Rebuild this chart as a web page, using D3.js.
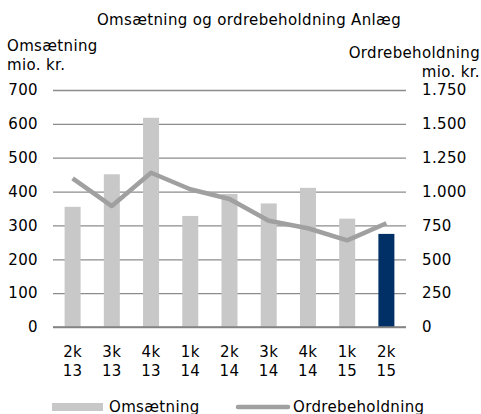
<!DOCTYPE html>
<html>
<head>
<meta charset="utf-8">
<script src="https://cdn.jsdelivr.net/npm/d3@7"></script>
<style>
  body { margin: 0; background: #fff; }
  text { font-family: "DejaVu Sans", Verdana, sans-serif; fill: #000; letter-spacing: 0.35px; }
</style>
</head>
<body>
<div id="chart"></div>
<script>
// Data
var quarters = ["2k 13", "3k 13", "4k 13", "1k 14", "2k 14", "3k 14", "4k 14", "1k 15", "2k 15"];
var omsaetning = [355, 451, 618, 328, 393, 365, 411, 320, 275];
var ordrebeholdning = [1098, 893, 1139, 1017, 945, 785, 729, 640, 766];
var leftTicks = [0, 100, 200, 300, 400, 500, 600, 700];
var rightTicks = [0, 250, 500, 750, 1000, 1250, 1500, 1750];

// Measurement
var w = 481, h = 414;
var padding = [90, 75, 87, 53];  // top, right, bottom, left
var fs = 15;

var svg = d3.select("#chart").append("svg")
  .attr("width", w)
  .attr("height", h);

var xScale = d3.scaleBand()
  .domain(quarters)
  .range([padding[3], w - padding[1]]);

var yLeft = d3.scaleLinear()
  .domain([0, 700])
  .range([h - padding[2], padding[0]]);

var yRight = d3.scaleLinear()
  .domain([0, 1750])
  .range([h - padding[2], padding[0]]);

var fmt = d3.formatLocale({ decimal: ",", thousands: ".", grouping: [3], currency: ["", " kr."] }).format(",d");

// Gridlines (left axis)
var grid = d3.axisLeft(yLeft)
  .tickValues(leftTicks)
  .tickSize(-(w - padding[1] - padding[3]))
  .tickFormat("");

svg.append("g")
  .attr("transform", "translate(" + padding[3] + ",0)")
  .call(grid)
  .call(function(g) {
    g.select(".domain").remove();
    g.selectAll("line").attr("stroke", "#8c8c8c").attr("stroke-width", 1.3);
  });

// Bars
svg.selectAll(".bar")
  .data(omsaetning)
  .enter()
  .append("rect")
  .attr("class", "bar")
  .attr("x", function(d, i) { return xScale(quarters[i]) + xScale.bandwidth() / 2 - 8; })
  .attr("width", 16)
  .attr("y", function(d) { return yLeft(d); })
  .attr("height", function(d) { return yLeft(0) - yLeft(d); })
  .attr("fill", function(d, i) { return i == quarters.length - 1 ? "#003066" : "#c8c8c8"; });

// Zero axis line
svg.append("line")
  .attr("x1", padding[3]).attr("x2", w - padding[1])
  .attr("y1", yLeft(0)).attr("y2", yLeft(0))
  .attr("stroke", "#808080").attr("stroke-width", 1.5);

// Line
var line = d3.line()
  .x(function(d, i) { return xScale(quarters[i]) + xScale.bandwidth() / 2; })
  .y(function(d) { return yRight(d); });

svg.append("path")
  .datum(ordrebeholdning)
  .attr("d", line)
  .attr("fill", "none")
  .attr("stroke", "#a0a0a0")
  .attr("stroke-width", 4.5)
  .attr("stroke-linejoin", "round");

// Left axis labels
var leftAxis = d3.axisLeft(yLeft).tickValues(leftTicks).tickSize(0).tickPadding(15);
svg.append("g")
  .attr("transform", "translate(" + padding[3] + ",0)")
  .call(leftAxis)
  .call(function(g) {
    g.select(".domain").remove();
    g.selectAll("text").attr("font-size", fs).attr("font-family", "DejaVu Sans").attr("fill", "#000");
  });

// Right axis labels
var rightAxis = d3.axisRight(yRight).tickValues(rightTicks).tickSize(0).tickPadding(16).tickFormat(fmt);
svg.append("g")
  .attr("transform", "translate(" + (w - padding[1]) + ",0)")
  .call(rightAxis)
  .call(function(g) {
    g.select(".domain").remove();
    g.selectAll("text").attr("font-size", fs).attr("font-family", "DejaVu Sans").attr("fill", "#000");
  });

// X labels (two lines)
var xl = svg.selectAll(".xlabel")
  .data(quarters)
  .enter()
  .append("text")
  .attr("class", "xlabel")
  .attr("text-anchor", "middle")
  .attr("font-size", fs);
xl.each(function(d) {
  var parts = d.split(" ");
  var t = d3.select(this);
  var cx = xScale(d) + xScale.bandwidth() / 2;
  t.append("tspan").attr("x", cx).attr("y", 357).text(parts[0]);
  t.append("tspan").attr("x", cx).attr("y", 376).text(parts[1]);
});

// Titles
svg.append("text").attr("x", 249).attr("y", 25).attr("text-anchor", "middle").attr("font-size", fs)
  .text("Omsætning og ordrebeholdning Anlæg");
svg.append("text").attr("x", 7).attr("y", 51).attr("font-size", fs).text("Omsætning");
svg.append("text").attr("x", 7).attr("y", 70).attr("font-size", fs).text("mio. kr.");
svg.append("text").attr("x", 480).attr("y", 58).attr("text-anchor", "end").attr("font-size", fs).text("Ordrebeholdning");
svg.append("text").attr("x", 480).attr("y", 77).attr("text-anchor", "end").attr("font-size", fs).text("mio. kr.");

// Legend
svg.append("rect").attr("x", 52).attr("y", 403).attr("width", 51).attr("height", 8).attr("fill", "#c8c8c8");
svg.append("text").attr("x", 109).attr("y", 412).attr("font-size", fs).text("Omsætning");
svg.append("line").attr("x1", 238).attr("x2", 288).attr("y1", 407).attr("y2", 407)
  .attr("stroke", "#a0a0a0").attr("stroke-width", 4.5).attr("stroke-linecap", "round");
svg.append("text").attr("x", 293).attr("y", 412).attr("font-size", fs).text("Ordrebeholdning");
</script>
</body>
</html>
